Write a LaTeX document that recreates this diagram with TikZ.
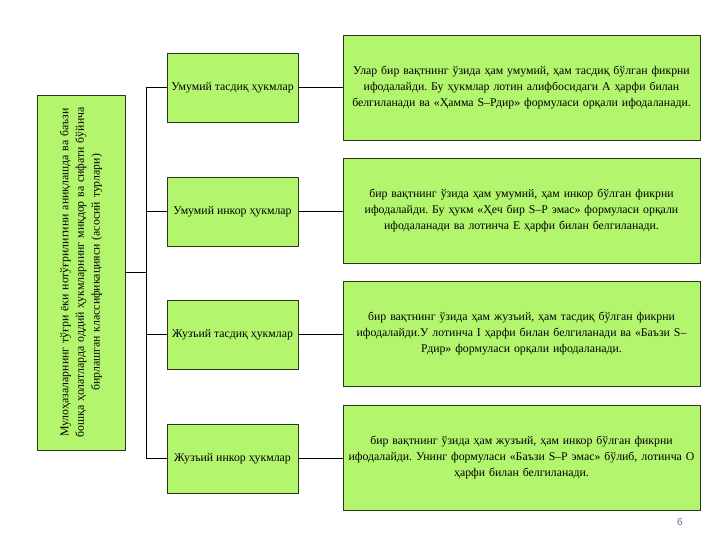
\documentclass[tikz,border=0pt]{standalone}
\usepackage{fontspec}
\setmainfont{Liberation Serif}
\newfontfamily\pagefont{Liberation Sans}
\definecolor{boxfill}{RGB}{180,245,110}
\definecolor{boxline}{RGB}{40,55,30}
\definecolor{pagenum}{RGB}{80,110,150}
\frenchspacing
\begin{document}
\begin{tikzpicture}[x=1pt,y=-1pt,
  gbox/.style={draw=boxline,fill=boxfill,line width=0.9pt,inner sep=1pt,
    font=\fontsize{11.8}{15.6}\selectfont,align=center},
  midbox/.style={gbox,minimum width=131pt,minimum height=69pt},
  descbox/.style={gbox,minimum width=357pt,minimum height=105pt,text width=354pt},
  conn/.style={draw=black,line width=0.9pt}]
\useasboundingbox (0,0) rectangle (720,540);
% main rotated box
\node[gbox,rotate=90,minimum width=355pt,minimum height=88pt,text width=350pt]
  (main) at (81,272.5) {Мулоҳазаларнинг тўғри ёки нотўғрилигини аниқлашда ва баъзи\\
  бошқа ҳолатларда оддий ҳукмларнинг миқдор ва сифати бўйича\\
  бирлашган классификацияси (асосий турлари)};
% middle boxes
\node[midbox] (m1) at (232.5,87.5) {Умумий тасдиқ ҳукмлар};
\node[midbox] (m2) at (232.5,211.5) {Умумий инкор ҳукмлар};
\node[midbox] (m3) at (232.5,334.5) {Жузъий тасдиқ ҳукмлар};
\node[midbox] (m4) at (232.5,458.5) {Жузъий инкор ҳукмлар};
% description boxes
\node[descbox] (d1) at (521.5,87.5) {Улар бир вақтнинг ўзида ҳам умумий, ҳам тасдиқ бўлган фикрни\\
  ифодалайди. Бу ҳукмлар лотин алифбосидаги А ҳарфи билан\\
  белгиланади ва «Ҳамма S–Рдир» формуласи орқали ифодаланади.};
\node[descbox] (d2) at (521.5,210.5) {бир вақтнинг ўзида ҳам умумий, ҳам инкор бўлган фикрни\\
  ифодалайди. Бу ҳукм «Ҳеч бир S–Р эмас» формуласи орқали\\
  ифодаланади ва лотинча Е ҳарфи билан белгиланади.};
\node[descbox] (d3) at (521.5,333.5) {бир вақтнинг ўзида ҳам жузъий, ҳам тасдиқ бўлган фикрни\\
  ифодалайди.У лотинча I ҳарфи билан белгиланади ва «Баъзи S–\\
  Рдир» формуласи орқали ифодаланади.};
\node[descbox] (d4) at (521.5,457.5) {бир вақтнинг ўзида ҳам жузъий, ҳам инкор бўлган фикрни\\
  ифодалайди. Унинг формуласи «Баъзи S–Р эмас» бўлиб, лотинча О\\
  ҳарфи билан белгиланади.};
% junction coordinates
\coordinate (j0) at (146,272.5);
\coordinate (j1) at (146,87.5);
\coordinate (j2) at (146,211.5);
\coordinate (j3) at (146,334.5);
\coordinate (j4) at (146,458.5);
\draw[conn] (main.south) -- (j0);
\draw[conn] (j1) -- (j4);
\draw[conn] (j1) -- (m1.west);
\draw[conn] (j2) -- (m2.west);
\draw[conn] (j3) -- (m3.west);
\draw[conn] (j4) -- (m4.west);
\draw[conn] (m1.east) -- (d1.west |- m1.east);
\draw[conn] (m2.east) -- (d2.west |- m2.east);
\draw[conn] (m3.east) -- (d3.west |- m3.east);
\draw[conn] (m4.east) -- (d4.west |- m4.east);
\node[font=\pagefont\fontsize{10}{12}\selectfont,text=pagenum] (pg) at (680,522) {6};
\end{tikzpicture}
\end{document}
